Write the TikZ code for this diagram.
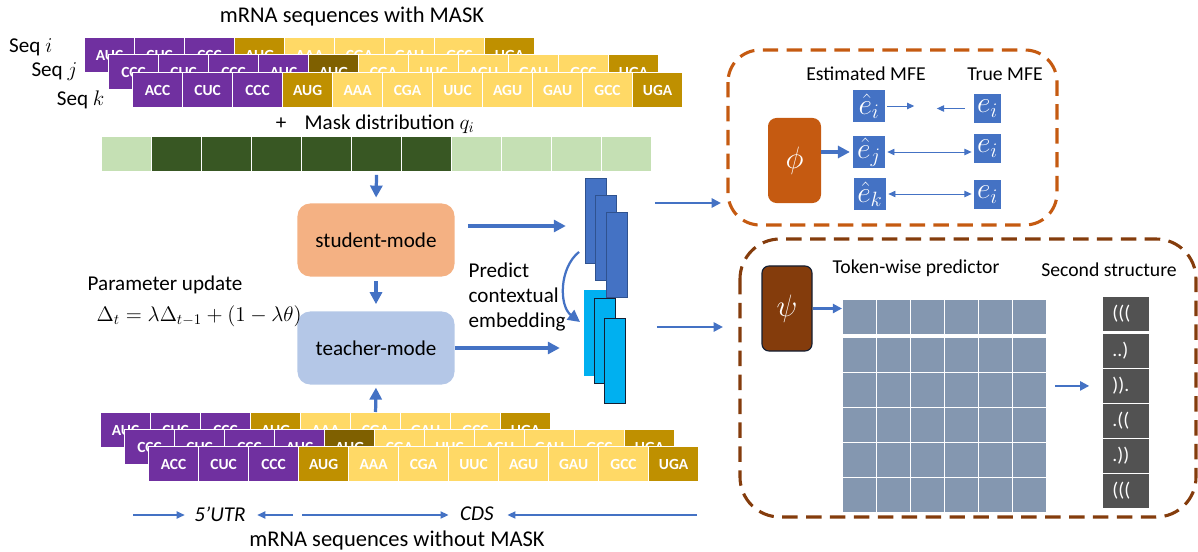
\RequirePackage{fix-cm}
\documentclass[tikz,border=0pt]{standalone}
\usepackage{amsmath}
\usepackage{fontspec}
\setmainfont{Carlito}
\usetikzlibrary{arrows.meta,positioning,calc}
\definecolor{utrpurple}{RGB}{112,48,160}
\definecolor{startgold}{RGB}{191,144,0}
\definecolor{cdsyellow}{RGB}{255,217,102}
\definecolor{stopdark}{RGB}{127,96,0}
\definecolor{masklight}{RGB}{197,224,180}
\definecolor{maskdark}{RGB}{56,87,35}
\definecolor{studentorange}{RGB}{244,177,131}
\definecolor{teacherblue}{RGB}{180,199,231}
\definecolor{arrowblue}{RGB}{68,114,196}
\definecolor{embline}{RGB}{47,82,143}
\definecolor{embcyan}{RGB}{0,176,240}
\definecolor{embedge}{RGB}{20,30,50}
\definecolor{mfeorange}{RGB}{197,90,17}
\definecolor{structbrown}{RGB}{132,60,12}
\definecolor{gridgray}{RGB}{132,151,176}
\definecolor{structgray}{RGB}{82,82,82}
\tikzset{
  txt/.style={font=\fontsize{15}{18}\selectfont, inner sep=1pt},
  ttl/.style={font=\fontsize{16}{19}\selectfont, inner sep=1pt},
  lbl/.style={font=\fontsize{14}{17}\selectfont, inner sep=1pt},
  codon/.style={rectangle, anchor=north west, draw=white, line width=0.8pt, minimum width=1.25cm, minimum height=0.875cm, inner sep=0pt, text=white, font=\fontsize{11}{13}\selectfont\bfseries},
  mode/.style={rectangle, rounded corners=9pt, minimum width=3.925cm, minimum height=1.825cm, font=\fontsize{15}{18}\selectfont},
  emb/.style={rectangle, anchor=north west, minimum width=0.52cm, minimum height=2.12cm, inner sep=0pt, line width=0.8pt},
  est/.style={rectangle, fill=arrowblue, text=white, minimum width=0.8cm, minimum height=0.8cm, inner sep=0pt, font=\fontsize{21}{24}\selectfont},
  tru/.style={est, minimum width=0.68cm, minimum height=0.73cm},
  phibox/.style={rectangle, rounded corners=6pt, fill=mfeorange, text=white, minimum width=1.325cm, minimum height=2.125cm, font=\fontsize{22}{26}\selectfont},
  psibox/.style={rectangle, rounded corners=5pt, fill=structbrown, draw=embedge, line width=0.8pt, text=white, minimum width=1.25cm, minimum height=2.125cm, font=\fontsize{22}{26}\selectfont},
  gcell/.style={rectangle, anchor=north west, fill=gridgray, draw=white, line width=0.8pt, minimum width=0.85cm, minimum height=0.875cm, inner sep=0pt},
  sstr/.style={rectangle, anchor=north west, fill=structgray, draw=white, line width=0.6pt, text=white, minimum width=1.175cm, minimum height=0.875cm, text width=0.68cm, inner xsep=7pt, align=left, font=\fontsize{14}{16}\selectfont},
  mfebox/.style={draw=mfeorange, line width=2.2pt, dash pattern=on 11pt off 6pt, rounded corners=0.8cm},
  strbox/.style={draw=structbrown, line width=2.2pt, dash pattern=on 11pt off 6pt, rounded corners=1cm},
  barr/.style={-{Triangle[length=3mm,width=3mm]}, line width=2.3pt, draw=arrowblue},
  marr/.style={-{Triangle[length=2.3mm,width=2.3mm]}, line width=1.4pt, draw=arrowblue},
  tarr/.style={-{Triangle[length=1.8mm,width=1.6mm]}, line width=0.7pt, draw=arrowblue},
  tdarr/.style={tarr, arrows={Triangle[length=1.8mm,width=1.6mm]-Triangle[length=1.8mm,width=1.6mm]}},
  larr/.style={-{Triangle[length=2mm,width=1.8mm]}, line width=0.9pt, draw=arrowblue},
}
\begin{document}
\begin{tikzpicture}[x=0.025cm, y=-0.025cm]
  \useasboundingbox (0,0) rectangle (1198,552);
  % masked sequences
  \node[ttl] (titlemask) at (352,17) {mRNA sequences with MASK};
  \foreach \c/\f [count=\n from 0] in {AUC/utrpurple,CUC/utrpurple,CCC/utrpurple,AUG/startgold,AAA/cdsyellow,CGA/cdsyellow,GAU/cdsyellow,GCC/cdsyellow,UGA/startgold}
    \node[codon, fill=\f] (ri\n) at ({84+50*\n},37) {\c};
  \foreach \c/\f [count=\n from 0] in {CCC/utrpurple,CUC/utrpurple,CCC/utrpurple,AUC/utrpurple,AUG/stopdark,CGA/cdsyellow,UUC/cdsyellow,AGU/cdsyellow,GAU/cdsyellow,GCC/cdsyellow,UGA/startgold}
    \node[codon, fill=\f] (rj\n) at ({108+50*\n},54) {\c};
  \foreach \c/\f [count=\n from 0] in {ACC/utrpurple,CUC/utrpurple,CCC/utrpurple,AUG/startgold,AAA/cdsyellow,CGA/cdsyellow,UUC/cdsyellow,AGU/cdsyellow,GAU/cdsyellow,GCC/cdsyellow,UGA/startgold}
    \node[codon, fill=\f] (rk\n) at ({132+50*\n},72) {\c};
  \node[txt, anchor=east] (seqi) at (54,47) {Seq $i$};
  \node[txt, anchor=east] (seqj) at (79,72) {Seq $j$};
  \node[txt, anchor=east] (seqk) at (106,100) {Seq $k$};
  % mask distribution
  \node[txt] (plus) at (281,124) {+};
  \node[txt, anchor=west] (masklbl) at (303,124) {Mask distribution $q_i$};
  \foreach \f [count=\n from 0] in {masklight,maskdark,maskdark,maskdark,maskdark,maskdark,maskdark,masklight,masklight,masklight,masklight}
    \node[codon, fill=\f] (m\n) at ({101+50*\n},136) {};
  % unmasked sequences
  \foreach \c/\f [count=\n from 0] in {AUC/utrpurple,CUC/utrpurple,CCC/utrpurple,AUG/startgold,AAA/cdsyellow,CGA/cdsyellow,GAU/cdsyellow,GCC/cdsyellow,UGA/startgold}
    \node[codon, fill=\f] (ba\n) at ({100+50*\n},412) {\c};
  \foreach \c/\f [count=\n from 0] in {CCC/utrpurple,CUC/utrpurple,CCC/utrpurple,AUC/utrpurple,AUG/stopdark,CGA/cdsyellow,UUC/cdsyellow,AGU/cdsyellow,GAU/cdsyellow,GCC/cdsyellow,UGA/startgold}
    \node[codon, fill=\f] (bb\n) at ({124+50*\n},429) {\c};
  \foreach \c/\f [count=\n from 0] in {ACC/utrpurple,CUC/utrpurple,CCC/utrpurple,AUG/startgold,AAA/cdsyellow,CGA/cdsyellow,UUC/cdsyellow,AGU/cdsyellow,GAU/cdsyellow,GCC/cdsyellow,UGA/startgold}
    \node[codon, fill=\f] (bc\n) at ({148+50*\n},446) {\c};
  % student / teacher
  \node[mode, fill=studentorange] (stu) at (376,240) {student-mode};
  \node[mode, fill=teacherblue] (tea) at (376,348) {teacher-mode};
  \draw[barr, shorten <=2pt, shorten >=4pt] (m5.south) -- (stu.north);
  \draw[barr, shorten <=3pt, shorten >=5pt] (stu.south) -- (tea.north);
  \draw[barr, shorten >=2pt] (ba5.north) -- (tea.south);
  \node[txt, anchor=west] (upd) at (86,285) {Parameter update};
  \node[txt, anchor=west] (ema) at (95,316) {$\Delta_t = \lambda\Delta_{t-1} + (1-\lambda\theta)$};
  % embeddings
  \node[emb, fill=arrowblue, draw=embline] (d1) at (585,178) {};
  \node[emb, fill=arrowblue, draw=embline] (d2) at (595,195) {};
  \node[emb, fill=arrowblue, draw=embline] (d3) at (606,212) {};
  \node[emb, fill=embcyan, draw=embcyan] (c1) at (584,290) {};
  \node[emb, fill=embcyan, draw=embedge] (c2) at (594,298) {};
  \node[emb, fill=embcyan, draw=embedge] (c3) at (604,318) {};
  \node[txt, anchor=west, align=left] (pred) at (467,297) {Predict\\contextual\\embedding};
  \draw[barr, line width=1.6pt] ([shift={(-6,-12)}]d1.south west) .. controls (559,268) and (559,306) .. ([shift={(-4,32)}]c1.north west);
  \draw[barr] ([shift={(13,-14)}]stu.east) -- ++(98,0);
  \draw[barr] (tea.east) -- ++(105,0);
  \draw[marr] ([shift={(27,-9)}]d3.north east) -- ++(66,0);
  \draw[marr] ([shift={(31,9)}]c3.north east) -- ++(66,0);
  % MFE head
  \draw[mfebox] (728,50) rectangle (1057,225);
  \node[lbl] (estl) at (866,74) {Estimated MFE};
  \node[lbl] (truel) at (1005,74) {True MFE};
  \node[phibox] (phi) at (794.5,160.5) {$\phi$};
  \node[est] (ehi) at (869,106) {$\hat{e}_i$};
  \node[est] (ehj) at (869,152) {$\hat{e}_j$};
  \node[est] (ehk) at (870,194) {$\hat{e}_k$};
  \node[tru] (ti) at (987.5,108.5) {$e_i$};
  \node[tru] (tj) at (987.5,148.5) {$e_i$};
  \node[tru] (tk) at (987.5,194.5) {$e_i$};
  \draw[barr, shorten >=2pt] (phi.east |- ehj.west) -- (ehj.west);
  \draw[tarr] ([xshift=0.05cm]ehi.east) -- ++(27,0);
  \draw[tarr] ([xshift=-0.22cm]ti.west) -- ++(-28,0);
  \draw[tdarr] ([xshift=0.05cm]ehj.east) -- ([xshift=-0.05cm]ehj.east -| tj.west);
  \draw[tdarr] ([xshift=0.05cm]ehk.east) -- ([xshift=-0.05cm]ehk.east -| tk.west);
  % structure head
  \draw[strbox] (740,239) rectangle (1196,517);
  \node[psibox] (psi) at (787,308.5) {$\psi$};
  \node[lbl] (tokl) at (916,268) {Token-wise predictor};
  \node[lbl] (secl) at (1109,270) {Second structure};
  \foreach \c in {0,...,5}
    \node[gcell] (g0\c) at ({842+34*\c},299) {};
  \foreach \r in {1,...,5}
    \foreach \c in {0,...,5}
      \node[gcell] (g\r\c) at ({842+34*\c},{302+35*\r}) {};
  \node[sstr] (st1) at (1102,296) {(((};
  \node[sstr] (st2) at (1102,333) {..)};
  \node[sstr] (st3) at (1102,368) {)).};
  \node[sstr] (st4) at (1102,403) {.((};
  \node[sstr] (st5) at (1102,438) {.))};
  \node[sstr] (st6) at (1102,473) {(((};
  \draw[marr, line width=1.5pt] (psi.east) -- (psi.east -| g00.west);
  \draw[marr, line width=1.5pt] ([xshift=0.2cm]g25.east |- st3.west) -- ([xshift=-0.32cm]st3.west);
  % regions
  \node[txt] (utr) at (220,514) {\textit{5’UTR}};
  \node[txt] (cds) at (477,514) {\textit{CDS}};
  \coordinate (ua) at (133,515);
  \coordinate (ub) at (293,515);
  \coordinate (uc) at (302,515);
  \coordinate (ud) at (697,515);
  \draw[larr] (ua) -- ([xshift=-0.2cm]utr.west |- ua);
  \draw[larr] (ub) -- ([xshift=0.25cm]utr.east |- ub);
  \draw[larr] (uc) -- ([xshift=-0.25cm]cds.west |- uc);
  \draw[larr] (ud) -- ([xshift=0.3cm]cds.east |- ud);
  \node[ttl] (titleplain) at (397,540) {mRNA sequences without MASK};
\end{tikzpicture}
\end{document}
